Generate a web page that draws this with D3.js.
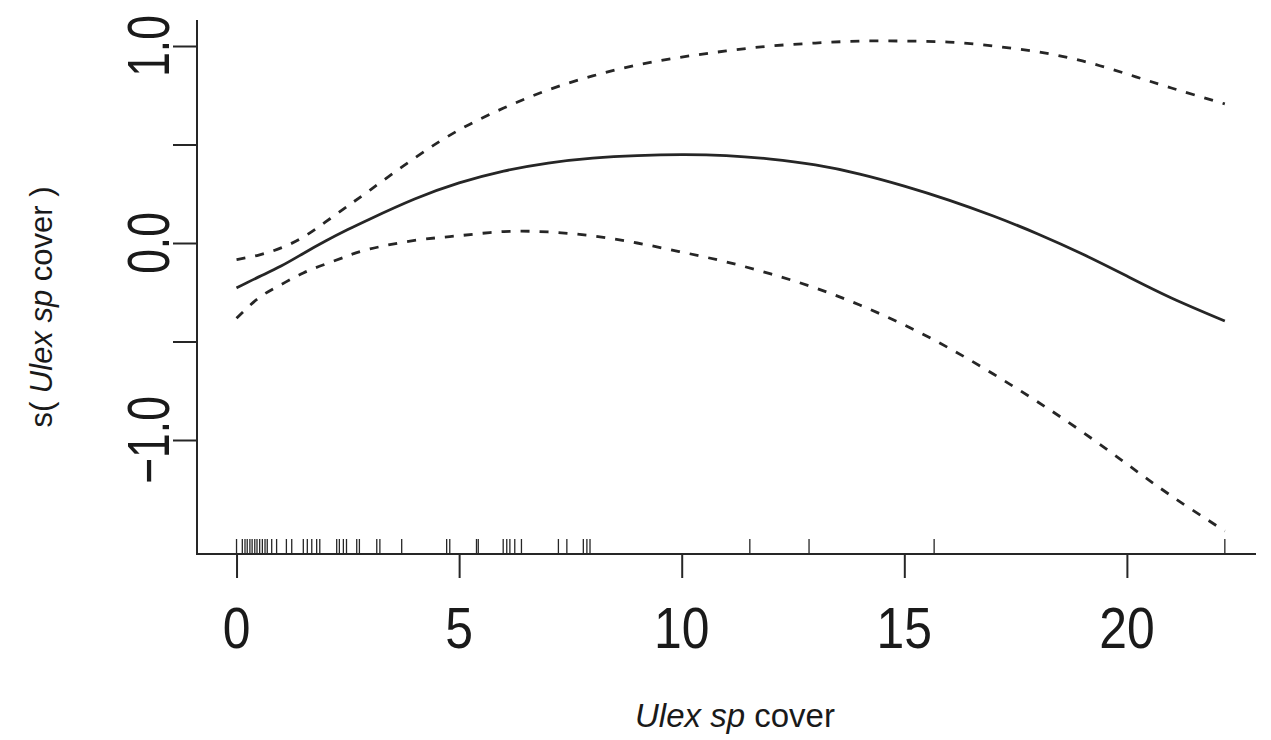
<!DOCTYPE html>
<html>
<head>
<meta charset="utf-8">
<script src="https://cdn.jsdelivr.net/npm/d3@7"></script>
<style>
  html, body { margin: 0; padding: 0; background: #fff; }
  svg { display: block; }
  text { font-family: "Liberation Sans", Arial, Helvetica, sans-serif; fill: #1a1a1a; }
</style>
</head>
<body>
<svg id="chart" width="1271" height="740"></svg>
<script>
// ---- data ----
const xGrid   = [0, 0.5, 1, 1.5, 2, 2.5, 3, 4, 5, 6, 7, 8, 9, 10, 11, 12, 13, 14, 15, 16, 17, 18, 19, 20, 21, 22.2];
const fitVals = [-0.228, -0.172, -0.117, -0.053, 0.010, 0.068, 0.122, 0.223, 0.305, 0.365, 0.406, 0.431, 0.444, 0.449, 0.444, 0.426, 0.396, 0.350, 0.289, 0.218, 0.137, 0.046, -0.056, -0.168, -0.279, -0.396];
const upperVals = [-0.084, -0.061, -0.025, 0.030, 0.107, 0.188, 0.269, 0.431, 0.574, 0.685, 0.777, 0.848, 0.904, 0.944, 0.975, 1.000, 1.015, 1.025, 1.025, 1.020, 1.000, 0.970, 0.924, 0.858, 0.787, 0.706];
const lowerVals = [-0.382, -0.279, -0.211, -0.152, -0.107, -0.065, -0.030, 0.013, 0.037, 0.058, 0.056, 0.036, 0.000, -0.046, -0.096, -0.157, -0.228, -0.315, -0.416, -0.533, -0.665, -0.807, -0.959, -1.122, -1.284, -1.462];
const rugVals = [0, 0.13, 0.19, 0.24, 0.30, 0.35, 0.41, 0.46, 0.52, 0.58, 0.64, 0.69, 0.79, 0.90, 1.12, 1.24, 1.50, 1.59, 1.69, 1.80, 1.87, 2.25, 2.31, 2.40, 2.47, 2.70, 2.76, 3.15, 3.22, 3.71, 4.72, 4.79, 5.39, 5.43, 5.99, 6.07, 6.14, 6.25, 6.40, 7.23, 7.42, 7.79, 7.87, 7.94, 11.53, 12.86, 15.67, 22.2];
const xTicks = [0, 5, 10, 15, 20];
const yTicks = [-1.0, -0.5, 0.0, 0.5, 1.0];
const yTickLabels = ["\u22121.0", "", "0.0", "", "1.0"];

// ---- layout ----
const svg = d3.select("#chart");
const mLeft = 197, mRight = 1256, mTop = 20, mBottom = 554;
const x = d3.scaleLinear().domain([-0.888, 22.9]).range([mLeft, mRight]);
const y = d3.scaleLinear().domain([-1.5787, 1.132]).range([mBottom, mTop]);
const ink = "#262626";

// axes (L-shaped box)
svg.append("path")
  .attr("d", `M${mLeft},${mTop}V${mBottom}H${mRight}`)
  .attr("fill", "none").attr("stroke", ink).attr("stroke-width", 2);

const xAxis = svg.append("g").attr("transform", `translate(0,${mBottom})`)
  .call(d3.axisBottom(x).tickValues(xTicks).tickSize(24).tickFormat(""));
xAxis.select(".domain").remove();
xAxis.selectAll("line").attr("stroke", ink).attr("stroke-width", 2);

// x tick labels (slightly condensed, as in the reference)
svg.append("g").selectAll("text").data(xTicks).join("text")
  .attr("transform", d => `translate(${x(d)},648) scale(0.86,1)`)
  .attr("text-anchor", "middle")
  .attr("font-size", 58)
  .text(d => d3.format("d")(d));

const yAxis = svg.append("g").attr("transform", `translate(${mLeft},0)`)
  .call(d3.axisLeft(y).tickValues(yTicks).tickSize(24).tickFormat(""));
yAxis.select(".domain").remove();
yAxis.selectAll("line").attr("stroke", ink).attr("stroke-width", 2);

svg.append("g").selectAll("text").data(yTicks.filter((d, i) => yTickLabels[i] !== ""))
  .join("text")
  .attr("transform", d => `translate(169,${y(d)}) rotate(-90) scale(0.74,1)`)
  .attr("text-anchor", "middle")
  .attr("font-size", 60)
  .text(d => yTickLabels[yTicks.indexOf(d)]);

// rug
svg.append("g").selectAll("line").data(rugVals).join("line")
  .attr("x1", d => x(d)).attr("x2", d => x(d))
  .attr("y1", mBottom - 15).attr("y2", mBottom)
  .attr("stroke", ink).attr("stroke-width", 1.3);

// curves
const mk = vals => d3.line().x((d, i) => x(xGrid[i])).y(d => y(d)).curve(d3.curveNatural)(vals);
svg.append("path").attr("d", mk(fitVals)).attr("fill", "none")
  .attr("stroke", ink).attr("stroke-width", 2.8);
[upperVals, lowerVals].forEach(v => {
  svg.append("path").attr("d", mk(v)).attr("fill", "none")
    .attr("stroke", ink).attr("stroke-width", 2.8).attr("stroke-dasharray", "9,10");
});

// axis titles
const xt = svg.append("text").attr("x", 735).attr("y", 727).attr("text-anchor", "middle").attr("font-size", 33);
xt.append("tspan").attr("font-style", "italic").text("Ulex sp");
xt.append("tspan").text(" cover");

const yt = svg.append("text").attr("transform", "translate(52,307) rotate(-90)").attr("text-anchor", "middle").attr("font-size", 31);
yt.append("tspan").text("s( ");
yt.append("tspan").attr("font-style", "italic").text("Ulex sp");
yt.append("tspan").text(" cover )");
</script>
</body>
</html>
